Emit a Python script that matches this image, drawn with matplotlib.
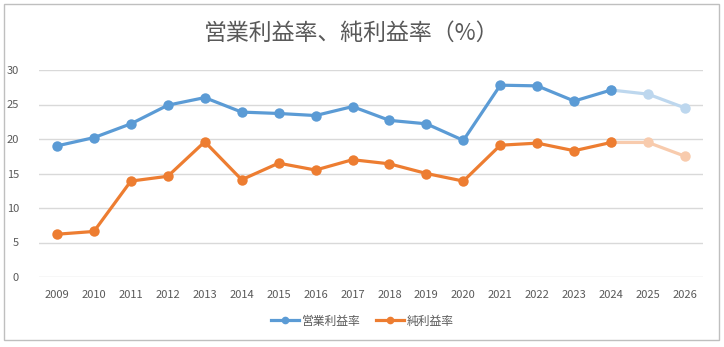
import matplotlib
matplotlib.use("Agg")
import matplotlib.pyplot as plt
from matplotlib.patches import Rectangle
from matplotlib.lines import Line2D

plt.rcParams['font.family'] = ['Noto Sans CJK JP', 'DejaVu Sans']

years = [str(y) for y in range(2009, 2027)]
operating_margin = [19.0, 20.2, 22.2, 24.9, 26.0, 23.9, 23.7, 23.4, 24.7,
                    22.7, 22.2, 19.8, 27.8, 27.7, 25.5, 27.1, 26.5, 24.5]
net_margin = [6.2, 6.6, 13.9, 14.6, 19.6, 14.1, 16.5, 15.5, 17.0,
              16.4, 15.0, 13.9, 19.1, 19.4, 18.3, 19.5, 19.5, 17.5]
actual_count = 16  # 2009-2024 actual, 2025-2026 forecast
yticks = [0, 5, 10, 15, 20, 25, 30]
title = "営業利益率、純利益率（%）"
labels = ["営業利益率", "純利益率"]

blue, blue_l = "#5B9BD5", "#BDD7EE"
orange, orange_l = "#ED7D31", "#F8CBAD"
gray = "#595959"

W, H = 724, 347
fig = plt.figure(figsize=(W / 100, H / 100), dpi=100)
fig.patches.append(Rectangle((4 / W, 1 - 340 / H), 715 / W, 336 / H,
                             transform=fig.transFigure, fill=False,
                             edgecolor="#BFBFBF", linewidth=1))

ax = fig.add_axes([38.5 / W, 70 / H, 665 / W, 207 / H])
x = list(range(len(years)))

lw, ms = 2.3, 7.5
for vals, c, cl in [(operating_margin, blue, blue_l), (net_margin, orange, orange_l)]:
    n = actual_count
    ax.plot(x[n - 1:], vals[n - 1:], color=cl, lw=lw, marker='o', ms=ms,
            markeredgewidth=0, zorder=2)
    ax.plot(x[:n], vals[:n], color=c, lw=lw, marker='o', ms=ms,
            markeredgewidth=0, zorder=3)

ax.set_xlim(-0.5, len(years) - 0.5)
ax.set_ylim(0, 30)
ax.set_yticks(yticks)
ax.set_xticks(x)
ax.set_xticklabels(years)
ax.grid(axis='y', color="#D9D9D9", linewidth=1)
ax.set_axisbelow(True)
for s in ax.spines.values():
    s.set_visible(False)
ax.tick_params(length=0, labelsize=8, labelcolor=gray)
ax.tick_params(axis='y', pad=14)
ax.tick_params(axis='x', pad=9)

fig.text(352 / W, 1 - 33 / H, title, ha='center', va='center',
         fontsize=16.5, color=gray)

handles = [Line2D([], [], color=blue, lw=lw, marker='o', ms=4.5),
           Line2D([], [], color=orange, lw=lw, marker='o', ms=4.5)]
fig.legend(handles, labels, loc='center', bbox_to_anchor=(362 / W, 1 - 321 / H),
           ncol=2, frameon=False, fontsize=8.5, labelcolor=gray,
           handlelength=2.4, handletextpad=0.2, columnspacing=1.3)

fig.savefig("out.png", dpi=100)
